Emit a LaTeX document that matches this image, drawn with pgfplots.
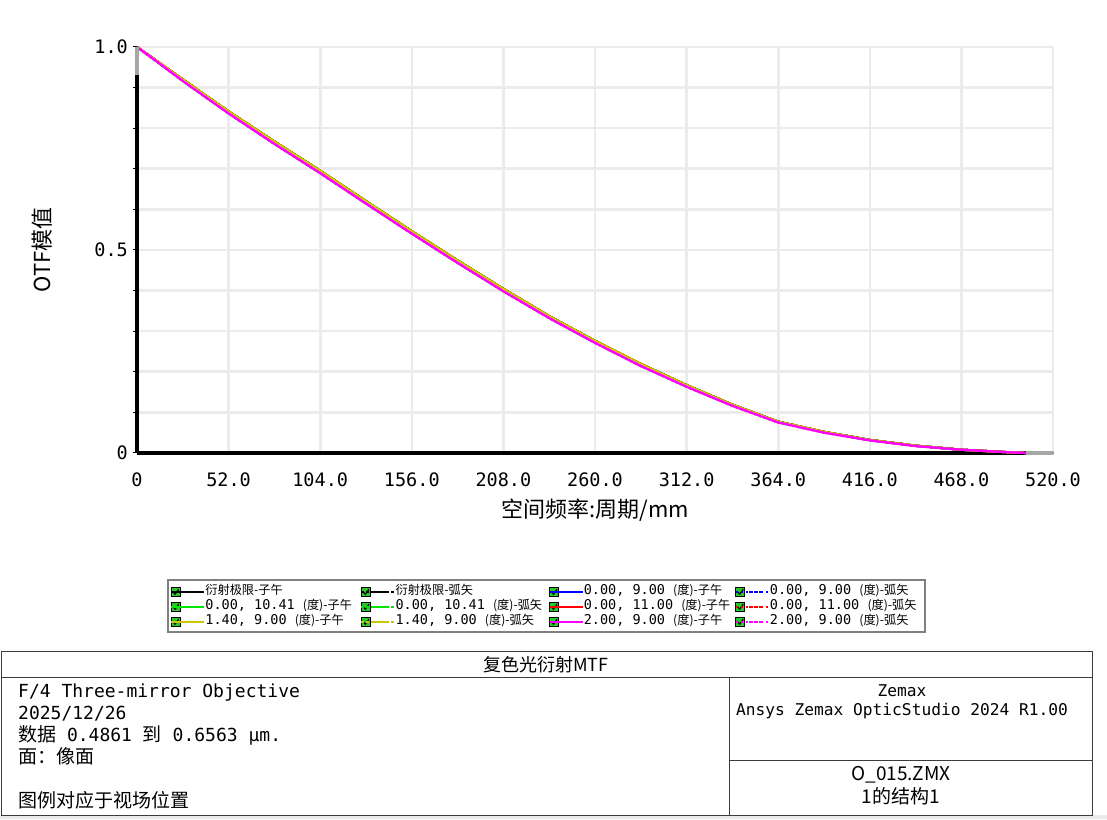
\documentclass[border=0pt]{standalone}
\usepackage{pgfplots}
\pgfplotsset{compat=1.18}
\usepackage{pgfplotstable}
\usepackage{fontspec}
\setmainfont{DejaVu Sans Mono}
\newfontfamily\cjk{Noto Sans CJK SC}

\definecolor{gridgray}{RGB}{235,235,235}
\definecolor{zgreen}{RGB}{0,230,0}
\definecolor{zyellow}{RGB}{200,200,0}
\definecolor{zmag}{RGB}{255,0,255}
\definecolor{zblue}{RGB}{0,0,255}
\definecolor{zred}{RGB}{255,0,0}
\definecolor{chk}{RGB}{40,200,40}
\definecolor{bggray}{RGB}{233,233,238}
\definecolor{tbl}{RGB}{60,60,60}

% legend text: mono numbers, CJK for the rest
\newcommand{\lgcjk}[1]{{\cjk\fontsize{12.2}{14}\selectfont #1}}

% MTF (upper group: diffraction limit, green, blue, red, yellow)
\pgfplotstableread{
x    y
0    1.000
26   0.920
52   0.841
78   0.767
104  0.695
130  0.620
156  0.546
182  0.474
208  0.404
234  0.337
260  0.276
286  0.219
312  0.167
338  0.119
364  0.077
390  0.052
416  0.032
442  0.018
468  0.008
494  0.002
505  0.000
520  0.000
}\mtfmain

% 2.00, 9.00 field (magenta), a hair lower
\pgfplotstableread{
x    y
0    1.000
26   0.916
52   0.836
78   0.761
104  0.689
130  0.614
156  0.540
182  0.468
208  0.398
234  0.332
260  0.271
286  0.214
312  0.163
338  0.116
364  0.075
390  0.050
416  0.031
442  0.017
468  0.008
494  0.002
505  0.000
520  0.000
}\mtfmag

\begin{document}
\begin{tikzpicture}[x=1pt,y=1pt]
\path[use as bounding box] (0,0) rectangle (1107,819);
\fill[white] (0,0) rectangle (1107,819);
\fill[bggray] (0,0) rectangle (1107,4);

\begin{axis}[
  at={(137pt,366pt)}, anchor=south west,
  scale only axis, width=916pt, height=406pt,
  xmin=0, xmax=520, ymin=0, ymax=1,
  axis x line*=bottom, axis y line*=left,
  axis line style={black, line width=3.5pt, -},
  xtick={0,52,...,520},
  xticklabels={0,52.0,104.0,156.0,208.0,260.0,312.0,364.0,416.0,468.0,520.0},
  ytick={0,0.1,0.2,0.3,0.4,0.5,0.6,0.7,0.8,0.9,1},
  yticklabels={0,,,,,0.5,,,,,1.0},
  grid=major, major grid style={gridgray, line width=2.6pt},
  tick align=outside, major tick length=4pt,
  xtick style={draw=none},
  ytick style={black, line width=1pt},
  /pgf/number format/assume math mode=true,
  ticklabel style={font=\fontsize{18.5}{20}\selectfont},
  xticklabel style={anchor=north, inner sep=0pt, yshift=-16pt},
  yticklabel style={anchor=east, inner sep=0pt, xshift=-5pt},
  xlabel={空间频率:周期/mm},
  xlabel style={font=\cjk\fontsize{22}{24}\selectfont, at={(axis description cs:0.5,-0.1404)}, anchor=center},
  ylabel={OTF模值},
  ylabel style={font=\cjk\fontsize{22}{24}\selectfont, at={(axis description cs:-0.1037,0.5)}, anchor=center},
  legend columns=4,
  legend cell align=left,
  legend style={draw=none, fill=none, at={(axis description cs:0.036,-0.323)}, anchor=north west,
    inner sep=0pt, column sep=0pt, row sep=0pt,
    font=\fontsize{13.5}{14}\selectfont,
    nodes={inner sep=0pt, text height=10.5pt, text depth=4.5pt}},
  legend image code/.code={
    \draw[black, solid, line width=0.8pt, fill=chk] (0pt,-4.5pt) rectangle (9pt,4.5pt);
    \draw[black, solid, line width=1.1pt] (1.8pt,0pt) -- (3.8pt,-2.4pt) -- (7.4pt,2.6pt);
    \draw[#1, line width=2pt] (13pt,0pt) -- (27pt,0pt);
    \path (0pt,0pt) -- (33pt,0pt);
  },
  every axis plot/.append style={line width=2.2pt},
  clip=false,
]
\addplot[black] table[x=x,y=y]{\mtfmain};
\addlegendentry{\makebox[155pt][l]{\lgcjk{衍射极限-子午}}}
\addplot[black, dash pattern=on 2.5pt off 2.5pt] table[x=x,y=y]{\mtfmain};
\addlegendentry{\makebox[153pt][l]{\lgcjk{衍射极限-弧矢}}}
\addplot[zblue] table[x=x,y=y]{\mtfmain};
\addlegendentry{\makebox[151pt][l]{0.00, 9.00 \lgcjk{(度)-子午}}}
\addplot[zblue, dash pattern=on 2.5pt off 2.5pt] table[x=x,y=y]{\mtfmain};
\addlegendentry{\makebox[151pt][l]{0.00, 9.00 \lgcjk{(度)-弧矢}}}
\addplot[zgreen] table[x=x,y=y]{\mtfmain};
\addlegendentry{\makebox[155pt][l]{0.00, 10.41 \lgcjk{(度)-子午}}}
\addplot[zgreen, dash pattern=on 2.5pt off 2.5pt] table[x=x,y=y]{\mtfmain};
\addlegendentry{\makebox[153pt][l]{0.00, 10.41 \lgcjk{(度)-弧矢}}}
\addplot[zred] table[x=x,y=y]{\mtfmain};
\addlegendentry{\makebox[151pt][l]{0.00, 11.00 \lgcjk{(度)-子午}}}
\addplot[zred, dash pattern=on 2.5pt off 2.5pt] table[x=x,y=y]{\mtfmain};
\addlegendentry{\makebox[151pt][l]{0.00, 11.00 \lgcjk{(度)-弧矢}}}
\addplot[zyellow] table[x=x,y=y]{\mtfmain};
\addlegendentry{\makebox[155pt][l]{1.40, 9.00 \lgcjk{(度)-子午}}}
\addplot[zyellow, dash pattern=on 2.5pt off 2.5pt] table[x=x,y=y]{\mtfmain};
\addlegendentry{\makebox[153pt][l]{1.40, 9.00 \lgcjk{(度)-弧矢}}}
\addplot[zmag] table[x=x,y=y]{\mtfmag};
\addlegendentry{\makebox[151pt][l]{2.00, 9.00 \lgcjk{(度)-子午}}}
\addplot[zmag, dash pattern=on 2.5pt off 2.5pt] table[x=x,y=y]{\mtfmag};
\addlegendentry{\makebox[151pt][l]{2.00, 9.00 \lgcjk{(度)-弧矢}}}
\draw[gray!70, line width=3.5pt] (axis cs:0,0.931) -- (axis cs:0,1);
\draw[gray!70, line width=3.5pt] (axis cs:504.5,0) -- (axis cs:520,0);
\end{axis}

% legend frame
\draw[gray, line width=1.2pt] (168,187) rectangle (925,239);

% title block
\draw[tbl, line width=1pt] (1,4) rectangle (1092,168);
\draw[tbl, line width=1pt] (1,142) -- (1092,142);
\draw[tbl, line width=1pt] (729,4) -- (729,142);
\draw[tbl, line width=1pt] (729,59) -- (1092,59);

\node[anchor=base, inner sep=0pt, font=\cjk\fontsize{18}{20}\selectfont] at (546,148) {复色光衍射MTF};
\begin{scope}[every node/.style={anchor=base west, inner sep=0pt, font=\fontsize{18}{20}\selectfont}]
\node at (18,122) {F/4 Three-mirror Objective};
\node at (18,100) {2025/12/26};
\node at (18,78) {{\cjk\fontsize{19}{20}\selectfont 数据} 0.4861 {\cjk\fontsize{19}{20}\selectfont 到} 0.6563 µm.};
\node at (18,56) {\cjk\fontsize{19}{20}\selectfont 面：像面};
\node at (18,12) {\cjk\fontsize{19}{20}\selectfont 图例对应于视场位置};
\end{scope}
\begin{scope}[every node/.style={anchor=base, inner sep=0pt, font=\fontsize{16.2}{18}\selectfont}]
\node at (902,123) {Zemax};
\node at (902,104) {Ansys Zemax OpticStudio 2024 R1.00};
\node[font=\cjk\fontsize{19}{20}\selectfont] at (901,39) {O\_015.ZMX};
\node[font=\cjk\fontsize{19}{20}\selectfont] at (901,16) {1的结构1};
\end{scope}
\end{tikzpicture}
\end{document}
